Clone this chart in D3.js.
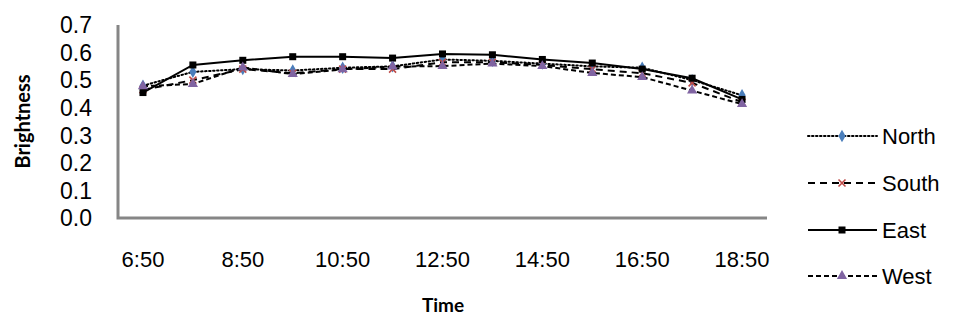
<!DOCTYPE html>
<html>
<head>
<meta charset="utf-8">
<script src="https://cdn.jsdelivr.net/npm/d3@7"></script>
<style>
  body { margin: 0; background: #fff; }
  text { font-family: "Liberation Sans", Arial, sans-serif; fill: #000; }
  .title { font-family: Lato, "Open Sans", sans-serif; font-weight: bold; }
</style>
</head>
<body>
<svg id="chart" width="953" height="320"></svg>
<script>
const times = ["6:50", "7:50", "8:50", "9:50", "10:50", "11:50", "12:50",
  "13:50", "14:50", "15:50", "16:50", "17:50", "18:50"];
const yTicks = [0, 0.1, 0.2, 0.3, 0.4, 0.5, 0.6, 0.7];

const north = [0.48, 0.53, 0.54, 0.535, 0.545, 0.55, 0.575, 0.57, 0.56, 0.55, 0.545, 0.50, 0.445];
const south = [0.465, 0.50, 0.54, 0.525, 0.54, 0.54, 0.565, 0.565, 0.555, 0.54, 0.525, 0.49, 0.42];
const east = [0.455, 0.555, 0.572, 0.585, 0.585, 0.58, 0.595, 0.592, 0.575, 0.562, 0.54, 0.507, 0.43];
const west = [0.478, 0.486, 0.546, 0.522, 0.539, 0.549, 0.551, 0.56, 0.551, 0.526, 0.511, 0.462, 0.413];

const series = [
  { name: "North", values: north, dash: "1.5,2.5", cap: "round", marker: "diamond", color: "#4a7ebb" },
  { name: "South", values: south, dash: "7,5", cap: "butt", marker: "cross", color: "#be4b48" },
  { name: "East", values: east, dash: null, cap: "butt", marker: "square", color: "#000" },
  { name: "West", values: west, dash: "5,3", cap: "butt", marker: "triangle", color: "#8064a2" }
];

const svg = d3.select("#chart");
const plot = { left: 118, right: 767, top: 25, bottom: 218 };

const x = d3.scaleBand().domain(times).range([plot.left, plot.right]);
const y = d3.scaleLinear().domain([0, 0.7]).range([plot.bottom, plot.top]);
const cx = d => x(d) + x.bandwidth() / 2;

// y tick labels
svg.append("g").selectAll("text").data(yTicks).enter().append("text")
  .attr("x", 92).attr("y", d => y(d)).attr("dy", "0.36em")
  .attr("text-anchor", "end").style("font-size", "23px")
  .text(d => d.toFixed(1));

// x tick labels every 2 hours
svg.append("g").selectAll("text").data(times.filter((t, i) => i % 2 === 0)).enter().append("text")
  .attr("x", d => cx(d)).attr("y", 259).attr("dy", "0.36em")
  .attr("text-anchor", "middle").style("font-size", "22px")
  .text(d => d);

// axis lines
svg.append("path")
  .attr("d", `M${plot.left},${plot.top}V${plot.bottom}H${plot.right}`)
  .attr("fill", "none").attr("stroke", "#868686").attr("stroke-width", 3);

// axis titles
svg.append("text").attr("class", "title")
  .attr("transform", `translate(30,${(plot.top + plot.bottom) / 2}) rotate(-90)`)
  .attr("text-anchor", "middle").style("font-size", "20px")
  .text("Brightness");
svg.append("text").attr("class", "title")
  .attr("x", 443).attr("y", 305).attr("dy", "0.36em")
  .attr("text-anchor", "middle").style("font-size", "19px")
  .text("Time");

function drawMarker(g, type, px, py, color) {
  if (type === "diamond") {
    g.append("path").attr("d", d3.symbol(d3.symbolDiamond, 45)())
      .attr("transform", `translate(${px},${py})`).attr("fill", color);
  } else if (type === "cross") {
    g.append("path").attr("d", "M-3.5,-3.5L3.5,3.5M-3.5,3.5L3.5,-3.5")
      .attr("transform", `translate(${px},${py})`)
      .attr("stroke", color).attr("stroke-width", 1.6).attr("fill", "none");
  } else if (type === "square") {
    g.append("rect").attr("x", px - 3.5).attr("y", py - 3.5)
      .attr("width", 7).attr("height", 7).attr("fill", color);
  } else {
    g.append("path").attr("d", d3.symbol(d3.symbolTriangle, 45)())
      .attr("transform", `translate(${px},${py})`).attr("fill", color);
  }
}

const line = d3.line().x((d, i) => cx(times[i])).y(d => y(d));

series.forEach(s => {
  const g = svg.append("g");
  g.append("path").datum(s.values).attr("d", line)
    .attr("fill", "none").attr("stroke", "#000").attr("stroke-width", 2)
    .attr("stroke-dasharray", s.dash).attr("stroke-linecap", s.cap);
  s.values.forEach((v, i) => drawMarker(g, s.marker, cx(times[i]), y(v), s.color));
});

// legend
const legendY = [136, 183, 230, 276];
series.forEach((s, i) => {
  const g = svg.append("g");
  const ly = legendY[i];
  g.append("line").attr("x1", 808).attr("x2", 877).attr("y1", ly).attr("y2", ly)
    .attr("stroke", "#000").attr("stroke-width", 2)
    .attr("stroke-dasharray", s.dash).attr("stroke-linecap", s.cap);
  drawMarker(g, s.marker, 842, ly, s.color);
  g.append("text").attr("x", 882).attr("y", ly).attr("dy", "0.36em")
    .style("font-size", "22px").text(s.name);
});
</script>
</body>
</html>
